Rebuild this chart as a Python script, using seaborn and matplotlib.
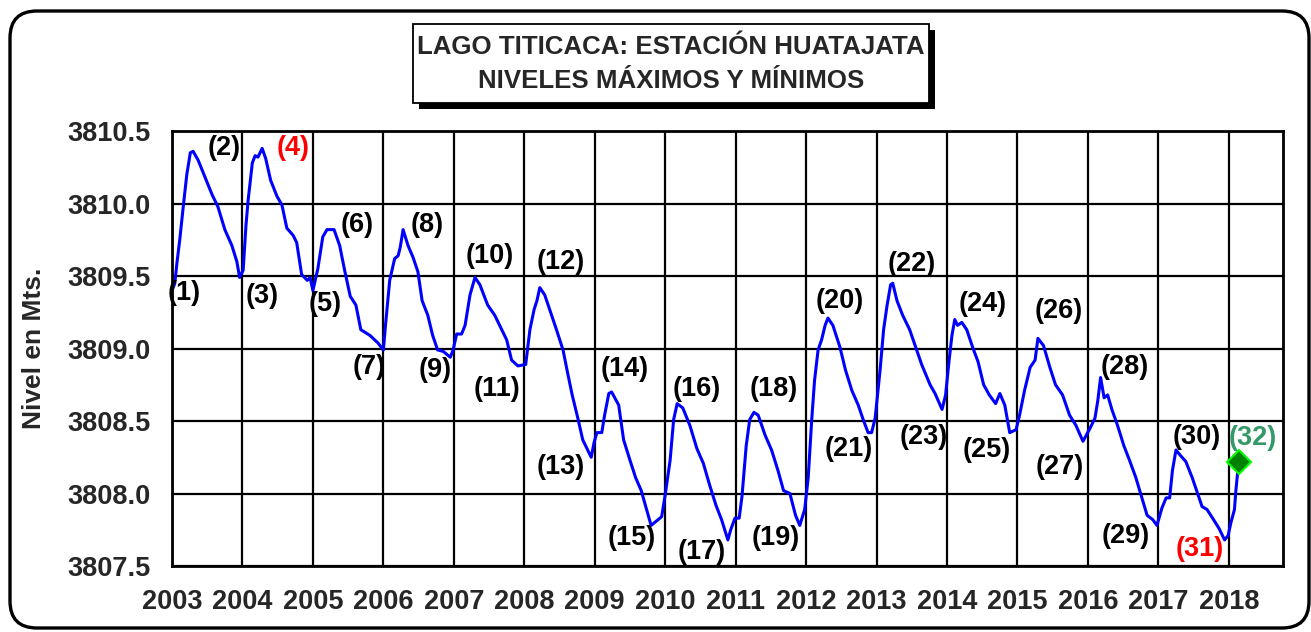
#Lago Titicaca - niveles maximos y minimos, estacion Huatajata
import matplotlib
matplotlib.use("Agg")
import pandas as pd
import matplotlib.pyplot as plt
from matplotlib.patches import FancyBboxPatch, Rectangle
import seaborn as sns

# nivel del lago (año decimal, m.s.n.m.)
years = [2003.00, 2003.04, 2003.07, 2003.11, 2003.16, 2003.21, 2003.26, 2003.30, 2003.37, 2003.47,
         2003.57, 2003.65, 2003.75, 2003.85, 2003.92, 2003.96, 2004.01, 2004.05, 2004.08, 2004.14,
         2004.18, 2004.22, 2004.28, 2004.33, 2004.40, 2004.49, 2004.56, 2004.63, 2004.72, 2004.77,
         2004.84, 2004.92, 2004.96, 2005.00, 2005.07, 2005.14, 2005.20, 2005.30, 2005.38, 2005.45,
         2005.53, 2005.61, 2005.68, 2005.81, 2005.92, 2006.00, 2006.03, 2006.09, 2006.16, 2006.21,
         2006.24, 2006.28, 2006.35, 2006.42, 2006.49, 2006.55, 2006.63, 2006.70, 2006.77, 2006.85,
         2006.95, 2006.99, 2007.04, 2007.11, 2007.16, 2007.23, 2007.30, 2007.37, 2007.48, 2007.58,
         2007.65, 2007.75, 2007.82, 2007.91, 2008.02, 2008.08, 2008.14, 2008.18, 2008.22, 2008.29,
         2008.36, 2008.45, 2008.55, 2008.62, 2008.68, 2008.76, 2008.83, 2008.90, 2008.95, 2008.99,
         2009.03, 2009.10, 2009.14, 2009.20, 2009.24, 2009.34, 2009.41, 2009.50, 2009.58, 2009.66,
         2009.73, 2009.80, 2009.85, 2009.95, 2010.00, 2010.07, 2010.12, 2010.17, 2010.25, 2010.35,
         2010.45, 2010.54, 2010.63, 2010.72, 2010.80, 2010.89, 2010.93, 2010.99, 2011.05, 2011.09,
         2011.15, 2011.20, 2011.26, 2011.32, 2011.42, 2011.51, 2011.60, 2011.68, 2011.77, 2011.85,
         2011.91, 2011.98, 2012.03, 2012.08, 2012.12, 2012.17, 2012.22, 2012.27, 2012.31, 2012.38,
         2012.48, 2012.56, 2012.65, 2012.74, 2012.81, 2012.88, 2012.93, 2012.98, 2013.05, 2013.10,
         2013.15, 2013.20, 2013.23, 2013.29, 2013.37, 2013.47, 2013.57, 2013.64, 2013.76, 2013.83,
         2013.93, 2013.98, 2014.03, 2014.07, 2014.11, 2014.15, 2014.21, 2014.28, 2014.37, 2014.44,
         2014.52, 2014.60, 2014.69, 2014.75, 2014.82, 2014.89, 2014.98, 2015.03, 2015.10, 2015.18,
         2015.25, 2015.29, 2015.37, 2015.46, 2015.54, 2015.64, 2015.74, 2015.83, 2015.93, 2016.03,
         2016.10, 2016.14, 2016.18, 2016.23, 2016.28, 2016.34, 2016.42, 2016.51, 2016.59, 2016.68,
         2016.76, 2016.84, 2016.92, 2016.98, 2017.05, 2017.11, 2017.16, 2017.20, 2017.25, 2017.30,
         2017.39, 2017.48, 2017.55, 2017.62, 2017.69, 2017.77, 2017.86, 2017.94, 2017.99, 2018.03,
         2018.08, 2018.10, 2018.14]
levels = [3809.40, 3809.45, 3809.59, 3809.75, 3809.98, 3810.20, 3810.35, 3810.36, 3810.30, 3810.18,
          3810.06, 3809.98, 3809.82, 3809.71, 3809.60, 3809.49, 3809.54, 3809.85, 3810.02, 3810.28,
          3810.33, 3810.32, 3810.38, 3810.31, 3810.16, 3810.05, 3809.99, 3809.83, 3809.78, 3809.73,
          3809.51, 3809.47, 3809.49, 3809.40, 3809.55, 3809.77, 3809.82, 3809.82, 3809.71, 3809.54,
          3809.36, 3809.30, 3809.13, 3809.09, 3809.04, 3808.99, 3809.16, 3809.47, 3809.62, 3809.64,
          3809.70, 3809.82, 3809.71, 3809.63, 3809.53, 3809.33, 3809.23, 3809.09, 3808.99, 3808.98,
          3808.94, 3808.99, 3809.10, 3809.10, 3809.16, 3809.37, 3809.49, 3809.44, 3809.30, 3809.23,
          3809.16, 3809.06, 3808.92, 3808.88, 3808.89, 3809.13, 3809.27, 3809.33, 3809.42, 3809.37,
          3809.27, 3809.14, 3808.99, 3808.82, 3808.68, 3808.52, 3808.37, 3808.30, 3808.25, 3808.35,
          3808.42, 3808.42, 3808.54, 3808.69, 3808.70, 3808.61, 3808.37, 3808.23, 3808.11, 3808.02,
          3807.90, 3807.78, 3807.80, 3807.84, 3807.99, 3808.23, 3808.51, 3808.62, 3808.59, 3808.47,
          3808.31, 3808.21, 3808.06, 3807.92, 3807.82, 3807.68, 3807.75, 3807.83, 3807.83, 3807.98,
          3808.33, 3808.51, 3808.56, 3808.54, 3808.40, 3808.30, 3808.16, 3808.02, 3808.00, 3807.85,
          3807.78, 3807.89, 3808.11, 3808.51, 3808.78, 3808.99, 3809.06, 3809.16, 3809.21, 3809.16,
          3809.01, 3808.85, 3808.71, 3808.61, 3808.51, 3808.42, 3808.42, 3808.52, 3808.85, 3809.13,
          3809.30, 3809.44, 3809.45, 3809.33, 3809.23, 3809.13, 3808.99, 3808.89, 3808.75, 3808.69,
          3808.58, 3808.68, 3808.92, 3809.09, 3809.20, 3809.16, 3809.18, 3809.13, 3809.00, 3808.91,
          3808.75, 3808.68, 3808.62, 3808.69, 3808.61, 3808.42, 3808.44, 3808.54, 3808.71, 3808.87,
          3808.92, 3809.07, 3809.02, 3808.87, 3808.75, 3808.68, 3808.54, 3808.47, 3808.36, 3808.45,
          3808.52, 3808.64, 3808.80, 3808.66, 3808.68, 3808.58, 3808.47, 3808.33, 3808.23, 3808.11,
          3807.98, 3807.85, 3807.82, 3807.78, 3807.90, 3807.97, 3807.97, 3808.16, 3808.30, 3808.27,
          3808.22, 3808.11, 3808.01, 3807.91, 3807.89, 3807.83, 3807.76, 3807.68, 3807.71, 3807.80,
          3807.89, 3808.02, 3808.22]

# ultimo dato (32)
last_year = 2018.14
last_level = 3808.22

# etiquetas de maximos y minimos
label_names = ['(1)', '(2)', '(3)', '(4)', '(5)', '(6)', '(7)', '(8)', '(9)', '(10)',
               '(11)', '(12)', '(13)', '(14)', '(15)', '(16)', '(17)', '(18)', '(19)', '(20)',
               '(21)', '(22)', '(23)', '(24)', '(25)', '(26)', '(27)', '(28)', '(29)', '(30)',
               '(31)', '(32)']
label_x = [2003.17, 2003.74, 2004.28, 2004.72, 2005.17, 2005.63, 2005.80, 2006.62, 2006.73, 2007.51,
           2007.61, 2008.52, 2008.52, 2009.43, 2009.53, 2010.45, 2010.52, 2011.54, 2011.57, 2012.48,
           2012.61, 2013.50, 2013.67, 2014.51, 2014.57, 2015.59, 2015.60, 2016.52, 2016.54, 2017.55,
           2017.59, 2018.34]
label_y = [3809.38, 3810.38, 3809.36, 3810.38, 3809.31, 3809.85, 3808.87, 3809.85, 3808.85, 3809.64,
           3808.72, 3809.60, 3808.18, 3808.86, 3807.69, 3808.72, 3807.60, 3808.72, 3807.69, 3809.33,
           3808.31, 3809.58, 3808.39, 3809.31, 3808.30, 3809.26, 3808.18, 3808.87, 3807.71, 3808.39,
           3807.62, 3808.38]

year_ticks = list(range(2003, 2019))
level_ticks = [3807.5, 3808.0, 3808.5, 3809.0, 3809.5, 3810.0, 3810.5]

df = pd.DataFrame({'year': years, 'nivel': levels})

sns.set_style("white")
plt.rcParams['font.family'] = ['Liberation Sans', 'DejaVu Sans']
plt.rcParams['font.weight'] = 'bold'

fig = plt.figure(figsize=(13.11, 6.32), dpi=100)
ax = fig.add_axes([0.1312, 0.1044, 0.8475, 0.6883])

sns.lineplot(data=df, x='year', y='nivel', color='#0000FF', linewidth=2.2,
             estimator=None, sort=False, ax=ax)
ax.plot([last_year], [last_level], marker='D', markersize=12, color='#008000',
        markeredgecolor='#00FF00', markeredgewidth=1.5, linestyle='none', zorder=5)

label_colors = {'(4)': '#FF0000', '(31)': '#FF0000', '(32)': '#339966'}
for name, lx, ly in zip(label_names, label_x, label_y):
    ax.text(lx, ly, name, ha='center', va='center', fontsize=19.5, fontweight='bold',
            color=label_colors.get(name, 'black'))

ax.set_xlim(2003, 2018.77)
ax.set_ylim(3807.5, 3810.5)
ax.set_xticks(year_ticks)
ax.set_xticklabels([str(y) for y in year_ticks])
ax.set_yticks(level_ticks)
ax.set_yticklabels(['%.1f' % v for v in level_ticks])
ax.grid(True, color='black', linewidth=1.6)
ax.set_axisbelow(True)
for s in ax.spines.values():
    s.set_color('black')
    s.set_linewidth(2)
ax.tick_params(axis='both', direction='out', length=6.5, width=1.2, color='black',
               labelsize=19.5, pad=9)
ax.tick_params(axis='x', pad=10)
ax.set_xlabel('')
ax.set_ylabel('Nivel en Mts.', fontsize=19, fontweight='bold')
ax.yaxis.set_label_coords(-0.113, 0.5)

# marco redondeado de toda la figura
frame = FancyBboxPatch((0.10, 0.04), 12.99, 6.17, boxstyle='round,pad=0,rounding_size=0.27',
                       transform=fig.dpi_scale_trans, facecolor='none', edgecolor='black',
                       linewidth=2.4, zorder=0)
fig.add_artist(frame)

# recuadro del titulo con sombra
shadow = Rectangle((4.19, 5.23), 5.16, 0.79, transform=fig.dpi_scale_trans,
                   facecolor='black', edgecolor='none', zorder=1)
box = Rectangle((4.13, 5.29), 5.16, 0.79, transform=fig.dpi_scale_trans,
                facecolor='white', edgecolor='black', linewidth=1.3, zorder=2)
fig.add_artist(shadow)
fig.add_artist(box)
fig.text(6.71 / 13.11, 5.68 / 6.32, 'LAGO TITICACA: ESTACIÓN HUATAJATA\nNIVELES MÁXIMOS Y MÍNIMOS',
         ha='center', va='center', fontsize=18.6, fontweight='bold', linespacing=1.5, zorder=3)

fig.savefig('out.png', dpi=100)
